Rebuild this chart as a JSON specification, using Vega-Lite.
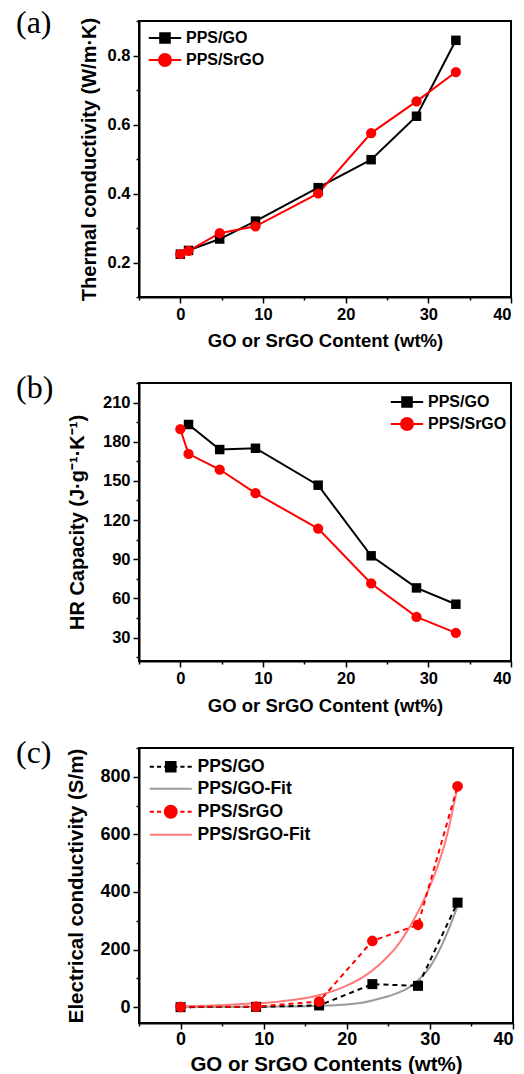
{
  "$schema": "https://vega.github.io/schema/vega-lite/v6.json",
  "background": "white",
  "padding": {"left": 15, "top": 6, "right": 0, "bottom": 0},
  "spacing": 20,
  "datasets": {
    "tc": [
      {"wt": 0, "value": 0.224, "series": "PPS/GO"},
      {"wt": 0.99, "value": 0.235, "series": "PPS/GO"},
      {"wt": 4.76, "value": 0.268, "series": "PPS/GO"},
      {"wt": 9.09, "value": 0.32, "series": "PPS/GO"},
      {"wt": 16.67, "value": 0.417, "series": "PPS/GO"},
      {"wt": 23.08, "value": 0.498, "series": "PPS/GO"},
      {"wt": 28.57, "value": 0.624, "series": "PPS/GO"},
      {"wt": 33.33, "value": 0.844, "series": "PPS/GO"},
      {"wt": 0, "value": 0.224, "series": "PPS/SrGO"},
      {"wt": 0.99, "value": 0.234, "series": "PPS/SrGO"},
      {"wt": 4.76, "value": 0.285, "series": "PPS/SrGO"},
      {"wt": 9.09, "value": 0.305, "series": "PPS/SrGO"},
      {"wt": 16.67, "value": 0.40, "series": "PPS/SrGO"},
      {"wt": 23.08, "value": 0.575, "series": "PPS/SrGO"},
      {"wt": 28.57, "value": 0.667, "series": "PPS/SrGO"},
      {"wt": 33.33, "value": 0.752, "series": "PPS/SrGO"}
    ],
    "hr": [
      {"wt": 0.99, "value": 193.2, "series": "PPS/GO"},
      {"wt": 4.76, "value": 174, "series": "PPS/GO"},
      {"wt": 9.09, "value": 175, "series": "PPS/GO"},
      {"wt": 16.67, "value": 146.7, "series": "PPS/GO"},
      {"wt": 23.08, "value": 92.6, "series": "PPS/GO"},
      {"wt": 28.57, "value": 68, "series": "PPS/GO"},
      {"wt": 33.33, "value": 55.5, "series": "PPS/GO"},
      {"wt": 0, "value": 189.6, "series": "PPS/SrGO"},
      {"wt": 0.99, "value": 170.7, "series": "PPS/SrGO"},
      {"wt": 4.76, "value": 158.7, "series": "PPS/SrGO"},
      {"wt": 9.09, "value": 140.6, "series": "PPS/SrGO"},
      {"wt": 16.67, "value": 113.5, "series": "PPS/SrGO"},
      {"wt": 23.08, "value": 71.4, "series": "PPS/SrGO"},
      {"wt": 28.57, "value": 45.8, "series": "PPS/SrGO"},
      {"wt": 33.33, "value": 33.6, "series": "PPS/SrGO"}
    ],
    "ec": [
      {"wt": 0, "value": 0, "series": "PPS/GO"},
      {"wt": 9.09, "value": 1, "series": "PPS/GO"},
      {"wt": 16.67, "value": 6, "series": "PPS/GO"},
      {"wt": 23.08, "value": 80, "series": "PPS/GO"},
      {"wt": 28.57, "value": 74, "series": "PPS/GO"},
      {"wt": 33.33, "value": 363, "series": "PPS/GO"},
      {"wt": 0, "value": 1, "series": "PPS/SrGO"},
      {"wt": 9.09, "value": 2, "series": "PPS/SrGO"},
      {"wt": 16.67, "value": 19.5, "series": "PPS/SrGO"},
      {"wt": 23.08, "value": 230, "series": "PPS/SrGO"},
      {"wt": 28.57, "value": 286, "series": "PPS/SrGO"},
      {"wt": 33.33, "value": 767, "series": "PPS/SrGO"}
    ],
    "ecfit": [
      {"wt": 0, "value": 0, "series": "PPS/GO-Fit"},
      {"wt": 8, "value": 1, "series": "PPS/GO-Fit"},
      {"wt": 12, "value": 2, "series": "PPS/GO-Fit"},
      {"wt": 16, "value": 4, "series": "PPS/GO-Fit"},
      {"wt": 20, "value": 9, "series": "PPS/GO-Fit"},
      {"wt": 22, "value": 16, "series": "PPS/GO-Fit"},
      {"wt": 24, "value": 30, "series": "PPS/GO-Fit"},
      {"wt": 26, "value": 48, "series": "PPS/GO-Fit"},
      {"wt": 27.3, "value": 65, "series": "PPS/GO-Fit"},
      {"wt": 28, "value": 80, "series": "PPS/GO-Fit"},
      {"wt": 29, "value": 105, "series": "PPS/GO-Fit"},
      {"wt": 30, "value": 140, "series": "PPS/GO-Fit"},
      {"wt": 31, "value": 190, "series": "PPS/GO-Fit"},
      {"wt": 32, "value": 252, "series": "PPS/GO-Fit"},
      {"wt": 33.33, "value": 350, "series": "PPS/GO-Fit"},
      {"wt": 0, "value": 3, "series": "PPS/SrGO-Fit"},
      {"wt": 4, "value": 6, "series": "PPS/SrGO-Fit"},
      {"wt": 8, "value": 12, "series": "PPS/SrGO-Fit"},
      {"wt": 12, "value": 20, "series": "PPS/SrGO-Fit"},
      {"wt": 16, "value": 37, "series": "PPS/SrGO-Fit"},
      {"wt": 20, "value": 75, "series": "PPS/SrGO-Fit"},
      {"wt": 22, "value": 105, "series": "PPS/SrGO-Fit"},
      {"wt": 24, "value": 150, "series": "PPS/SrGO-Fit"},
      {"wt": 26, "value": 210, "series": "PPS/SrGO-Fit"},
      {"wt": 28, "value": 300, "series": "PPS/SrGO-Fit"},
      {"wt": 29, "value": 355, "series": "PPS/SrGO-Fit"},
      {"wt": 30, "value": 420, "series": "PPS/SrGO-Fit"},
      {"wt": 31, "value": 495, "series": "PPS/SrGO-Fit"},
      {"wt": 32, "value": 590, "series": "PPS/SrGO-Fit"},
      {"wt": 33.33, "value": 767, "series": "PPS/SrGO-Fit"}
    ]
  },
  "resolve": {
    "scale": {"color": "independent", "stroke": "independent", "shape": "independent"},
    "legend": {"color": "independent", "stroke": "independent", "shape": "independent"}
  },
  "vconcat": [
    {
      "width": 372,
      "height": 276,
      "title": {"text": "(a)", "dx": -123, "dy": 23, "offset": 0},
      "data": {"name": "tc"},
      "encoding": {
        "x": {
          "field": "wt", "type": "quantitative",
          "scale": {"domain": [-5, 40], "nice": false, "zero": false},
          "axis": {
            "title": "GO or SrGO Content (wt%)",
            "values": [-5, 0, 5, 10, 15, 20, 25, 30, 35, 40],
            "labelExpr": "datum.value % 10 === 0 ? datum.label : ''",
            "tickSize": {"condition": {"test": "datum.value % 10 === 0", "value": 6}, "value": 3},
            "titlePadding": 9
          }
        },
        "y": {
          "field": "value", "type": "quantitative",
          "scale": {"domain": [0.1, 0.9], "nice": false, "zero": false},
          "axis": {
            "title": "Thermal conductivity (W/m·K)",
            "titleFontSize": 20,
            "values": [0.1, 0.2, 0.3, 0.4, 0.5, 0.6, 0.7, 0.8, 0.9],
            "labelExpr": "round(datum.value * 10) % 2 === 0 ? format(datum.value, '.1f') : ''",
            "tickSize": {"condition": {"test": "round(datum.value * 10) % 2 === 0", "value": 6}, "value": 3},
            "titlePadding": 8
          }
        }
      },
      "layer": [
        {
          "transform": [{"filter": "datum.series === 'PPS/GO'"}],
          "mark": {"type": "line", "strokeWidth": 2, "color": "#000000"}
        },
        {
          "transform": [{"filter": "datum.series === 'PPS/SrGO'"}],
          "mark": {"type": "line", "strokeWidth": 2, "color": "#ff0000"}
        },
        {
          "transform": [{"filter": "datum.series === 'PPS/GO'"}],
          "mark": {"type": "point", "shape": "square", "filled": true, "size": 90, "opacity": 1, "color": "#000000"}
        },
        {
          "transform": [{"filter": "datum.series === 'PPS/SrGO'"}],
          "mark": {"type": "point", "shape": "circle", "filled": true, "size": 105, "opacity": 1, "color": "#ff0000"}
        },
        {
          "transform": [{"filter": "datum.wt < -100"}],
          "mark": {"type": "point", "filled": true, "size": 144, "opacity": 1, "strokeWidth": 2},
          "encoding": {
            "color": {"field": "series", "type": "nominal",
              "scale": {"domain": ["PPS/GO", "PPS/SrGO"], "range": ["#000000", "#ff0000"]},
              "legend": {"orient": "none", "legendX": 18, "legendY": 9, "title": null}},
            "stroke": {"field": "series", "type": "nominal",
              "scale": {"domain": ["PPS/GO", "PPS/SrGO"], "range": ["#000000", "#ff0000"]},
              "legend": {"orient": "none", "legendX": 18, "legendY": 9, "title": null}},
            "shape": {"field": "series", "type": "nominal",
              "scale": {"domain": ["PPS/GO", "PPS/SrGO"], "range": [
                "M-2.7,0H2.7M-0.8,-0.8H0.8V0.8H-0.8Z",
                "M-2.7,0H2.7M1,0A1,1 0 1 1 -1,0A1,1 0 1 1 1,0Z"]},
              "legend": {"orient": "none", "legendX": 18, "legendY": 9, "title": null}}
          }
        }
      ]
    },
    {
      "width": 372,
      "height": 278,
      "title": {"text": "(b)", "dx": -123, "dy": 23, "offset": 0},
      "data": {"name": "hr"},
      "encoding": {
        "x": {
          "field": "wt", "type": "quantitative",
          "scale": {"domain": [-5, 40], "nice": false, "zero": false},
          "axis": {
            "title": "GO or SrGO Content (wt%)",
            "values": [-5, 0, 5, 10, 15, 20, 25, 30, 35, 40],
            "labelExpr": "datum.value % 10 === 0 ? datum.label : ''",
            "tickSize": {"condition": {"test": "datum.value % 10 === 0", "value": 6}, "value": 3},
            "titlePadding": 10
          }
        },
        "y": {
          "field": "value", "type": "quantitative",
          "scale": {"domain": [12, 225], "nice": false, "zero": false},
          "axis": {
            "title": "HR Capacity (J·g⁻¹·K⁻¹)",
            "titleFontSize": 20,
            "values": [15, 30, 45, 60, 75, 90, 105, 120, 135, 150, 165, 180, 195, 210, 225],
            "labelExpr": "datum.value % 30 === 0 ? datum.label : ''",
            "tickSize": {"condition": {"test": "datum.value % 30 === 0", "value": 6}, "value": 3},
            "titlePadding": 15
          }
        }
      },
      "layer": [
        {
          "transform": [{"filter": "datum.series === 'PPS/GO'"}],
          "mark": {"type": "line", "strokeWidth": 2, "color": "#000000"}
        },
        {
          "transform": [{"filter": "datum.series === 'PPS/SrGO'"}],
          "mark": {"type": "line", "strokeWidth": 2, "color": "#ff0000"}
        },
        {
          "transform": [{"filter": "datum.series === 'PPS/GO'"}],
          "mark": {"type": "point", "shape": "square", "filled": true, "size": 90, "opacity": 1, "color": "#000000"}
        },
        {
          "transform": [{"filter": "datum.series === 'PPS/SrGO'"}],
          "mark": {"type": "point", "shape": "circle", "filled": true, "size": 105, "opacity": 1, "color": "#ff0000"}
        },
        {
          "transform": [{"filter": "datum.wt < -100"}],
          "mark": {"type": "point", "filled": true, "size": 144, "opacity": 1, "strokeWidth": 2},
          "encoding": {
            "color": {"field": "series", "type": "nominal",
              "scale": {"domain": ["PPS/GO", "PPS/SrGO"], "range": ["#000000", "#ff0000"]},
              "legend": {"orient": "none", "legendX": 260, "legendY": 11, "title": null}},
            "stroke": {"field": "series", "type": "nominal",
              "scale": {"domain": ["PPS/GO", "PPS/SrGO"], "range": ["#000000", "#ff0000"]},
              "legend": {"orient": "none", "legendX": 260, "legendY": 11, "title": null}},
            "shape": {"field": "series", "type": "nominal",
              "scale": {"domain": ["PPS/GO", "PPS/SrGO"], "range": [
                "M-2.7,0H2.7M-0.8,-0.8H0.8V0.8H-0.8Z",
                "M-2.7,0H2.7M1,0A1,1 0 1 1 -1,0A1,1 0 1 1 1,0Z"]},
              "legend": {"orient": "none", "legendX": 260, "legendY": 11, "title": null}}
          }
        }
      ]
    },
    {
      "width": 374,
      "height": 275,
      "title": {"text": "(c)", "dx": -123, "dy": 23, "offset": 0},
      "encoding": {
        "x": {
          "field": "wt", "type": "quantitative",
          "scale": {"domain": [-5, 40], "nice": false, "zero": false},
          "axis": {
            "title": "GO or SrGO Contents (wt%)",
            "titleFontSize": 20.5,
            "labelFontSize": 18,
            "labelPadding": 1,
            "values": [-5, 0, 5, 10, 15, 20, 25, 30, 35, 40],
            "labelExpr": "datum.value % 10 === 0 ? datum.label : ''",
            "tickSize": {"condition": {"test": "datum.value % 10 === 0", "value": 6}, "value": 3},
            "titlePadding": 6
          }
        },
        "y": {
          "field": "value", "type": "quantitative",
          "scale": {"domain": [-55, 900], "nice": false, "zero": false},
          "axis": {
            "title": "Electrical conductivity (S/m)",
            "titleFontSize": 20.5,
            "labelFontSize": 18,
            "values": [0, 100, 200, 300, 400, 500, 600, 700, 800, 900],
            "labelExpr": "datum.value % 200 === 0 ? datum.label : ''",
            "tickSize": {"condition": {"test": "datum.value % 200 === 0", "value": 6}, "value": 3},
            "titlePadding": 13
          }
        }
      },
      "layer": [
        {
          "data": {"name": "ecfit"},
          "transform": [{"filter": "datum.series === 'PPS/GO-Fit'"}],
          "mark": {"type": "line", "strokeWidth": 2, "interpolate": "monotone", "color": "#9a9a9a"}
        },
        {
          "data": {"name": "ecfit"},
          "transform": [{"filter": "datum.series === 'PPS/SrGO-Fit'"}],
          "mark": {"type": "line", "strokeWidth": 2, "interpolate": "monotone", "color": "#ff7a7a"}
        },
        {
          "data": {"name": "ec"},
          "transform": [{"filter": "datum.series === 'PPS/GO'"}],
          "mark": {"type": "line", "strokeWidth": 2, "strokeDash": [5, 4], "color": "#000000"}
        },
        {
          "data": {"name": "ec"},
          "transform": [{"filter": "datum.series === 'PPS/SrGO'"}],
          "mark": {"type": "line", "strokeWidth": 2, "strokeDash": [5, 4], "color": "#ff0000"}
        },
        {
          "data": {"name": "ec"},
          "transform": [{"filter": "datum.series === 'PPS/GO'"}],
          "mark": {"type": "point", "shape": "square", "filled": true, "size": 100, "opacity": 1, "color": "#000000"}
        },
        {
          "data": {"name": "ec"},
          "transform": [{"filter": "datum.series === 'PPS/SrGO'"}],
          "mark": {"type": "point", "shape": "circle", "filled": true, "size": 115, "opacity": 1, "color": "#ff0000"}
        },
        {
          "data": {"name": "ec"},
          "transform": [{"filter": "datum.wt < -100"}],
          "mark": {"type": "point", "filled": true, "size": 144, "opacity": 1, "strokeWidth": 2},
          "encoding": {
            "color": {"field": "series", "type": "nominal",
              "scale": {"domain": ["PPS/GO", "PPS/GO-Fit", "PPS/SrGO", "PPS/SrGO-Fit"],
                        "range": ["#000000", "#9a9a9a", "#ff0000", "#ff7a7a"]},
              "legend": {"orient": "none", "legendX": 23, "legendY": 10, "title": null, "labelOffset": 18, "labelFontSize": 17.5}},
            "stroke": {"field": "series", "type": "nominal",
              "scale": {"domain": ["PPS/GO", "PPS/GO-Fit", "PPS/SrGO", "PPS/SrGO-Fit"],
                        "range": ["#000000", "#9a9a9a", "#ff0000", "#ff7a7a"]},
              "legend": {"orient": "none", "legendX": 23, "legendY": 10, "title": null, "labelOffset": 18, "labelFontSize": 17.5}},
            "shape": {"field": "series", "type": "nominal",
              "scale": {"domain": ["PPS/GO", "PPS/GO-Fit", "PPS/SrGO", "PPS/SrGO-Fit"], "range": [
                "M-3.5,0H-2.8M-2.3,0H-1.6M-1.1,0H-0.8M-0.8,-0.8H0.8V0.8H-0.8ZM0.8,0H1.1M1.6,0H2.3M2.8,0H3.5",
                "M-3.5,0H3.5",
                "M-3.5,0H-2.8M-2.3,0H-1.6M-1.1,0H-1M1,0A1,1 0 1 1 -1,0A1,1 0 1 1 1,0ZM1,0H1.1M1.6,0H2.3M2.8,0H3.5",
                "M-3.5,0H3.5"]},
              "legend": {"orient": "none", "legendX": 23, "legendY": 10, "title": null, "labelOffset": 18, "labelFontSize": 17.5}}
          }
        }
      ]
    }
  ],
  "config": {
    "font": "Liberation Sans",
    "view": {"stroke": "#000000", "strokeWidth": 2},
    "title": {"font": "Liberation Serif", "fontSize": 32, "fontWeight": "normal", "color": "#000000", "anchor": "start", "frame": "group"},
    "axis": {
      "labelFont": "Liberation Sans", "labelFontWeight": "bold", "labelFontSize": 16.5, "labelColor": "#000000",
      "titleFont": "Liberation Sans", "titleFontWeight": "bold", "titleFontSize": 18.5, "titleColor": "#000000",
      "domainColor": "#000000", "domainWidth": 2, "tickColor": "#000000", "tickWidth": 1.5,
      "grid": false, "labelPadding": 3
    },
    "legend": {
      "labelFont": "Liberation Sans", "labelFontWeight": "bold", "labelFontSize": 16, "labelColor": "#000000",
      "symbolSize": 144, "symbolStrokeWidth": 2, "labelOffset": 13, "padding": 0, "rowPadding": 3
    }
  }
}
